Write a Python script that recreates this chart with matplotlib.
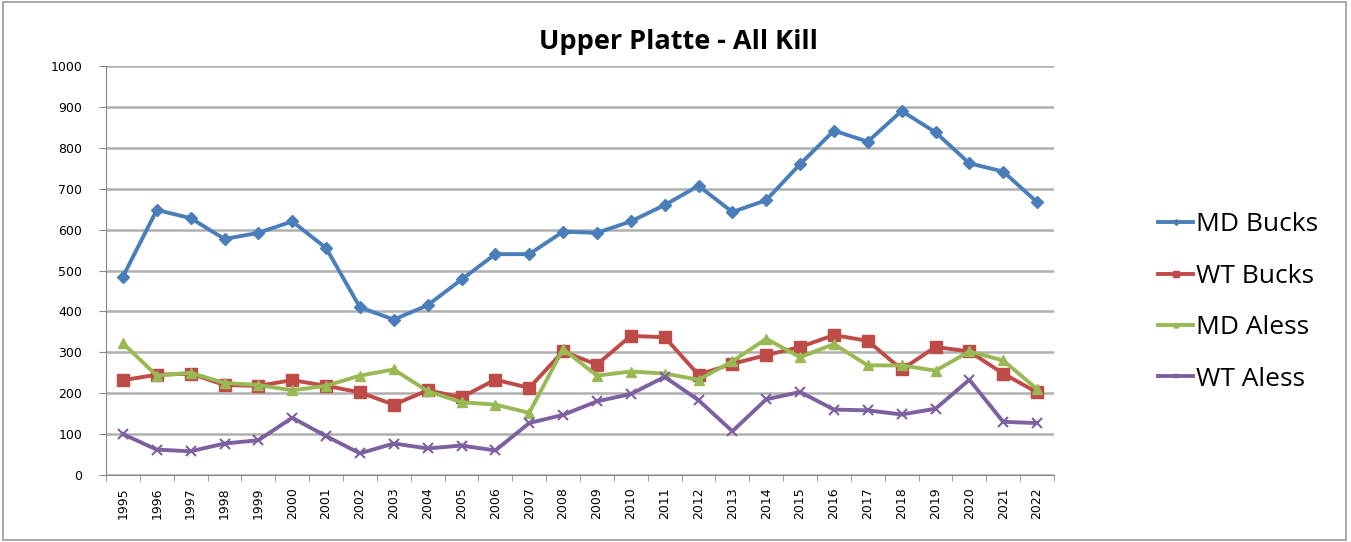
import matplotlib.pyplot as plt
from matplotlib.patches import Rectangle

years = list(range(1995, 2023))
md_bucks = [485, 648, 628, 577, 592, 620, 555, 410, 380, 415, 478, 540, 540, 595,
            592, 620, 660, 707, 643, 672, 760, 842, 815, 890, 838, 762, 742, 667]
wt_bucks = [232, 245, 248, 220, 218, 232, 218, 202, 172, 207, 190, 233, 213, 302,
            270, 340, 337, 245, 272, 293, 313, 342, 328, 258, 313, 302, 248, 202]
md_aless = [322, 243, 250, 225, 220, 207, 218, 243, 258, 205, 178, 172, 152, 308,
            243, 253, 248, 233, 278, 333, 288, 320, 268, 268, 255, 302, 280, 210]
wt_aless = [100, 62, 58, 77, 85, 140, 95, 53, 77, 65, 72, 60, 127, 147,
            180, 198, 240, 183, 107, 185, 203, 160, 158, 148, 162, 233, 130, 127]

series = [
    ("MD Bucks", md_bucks, "#4A7EBB", "D", 6),
    ("WT Bucks", wt_bucks, "#BE4B48", "s", 8),
    ("MD Aless", md_aless, "#98B954", "^", 7),
    ("WT Aless", wt_aless, "#7D60A0", "x", 7),
]

fig = plt.figure(figsize=(13.51, 5.42), dpi=100)
ax = fig.add_axes([106 / 1351, 1 - 475 / 542, (1054 - 106) / 1351, (475 - 66) / 542])

for name, vals, col, mk, ms in series:
    ax.plot(years, vals, color=col, lw=2.8, marker=mk, ms=ms, mew=1.5 if mk == "x" else 1,
            mec=col, mfc=col, label=name)

ax.set_xlim(1994.5, 2022.5)
ax.set_ylim(0, 1000)
ax.set_yticks(range(0, 1001, 100))
ax.set_xticks(years)
ax.set_xticklabels([str(y) for y in years], rotation=90, fontsize=9)
ax.set_xticks([y + 0.5 for y in [1994] + years], minor=True)
ax.tick_params(axis="x", which="major", length=0, pad=9)
ax.tick_params(axis="x", which="minor", length=4, color="#888888")
ax.tick_params(axis="y", labelsize=9, length=5, pad=12, color="#888888")
ax.yaxis.grid(True, color="#b0b0b0", lw=1.8)
ax.set_axisbelow(True)
for s in ["top", "right"]:
    ax.spines[s].set_visible(False)
ax.spines["left"].set_color("#888888")
ax.spines["bottom"].set_color("#888888")

fig.text(678 / 1351, 1 - 42 / 542, "Upper Platte - All Kill", ha="center", va="center",
         fontsize=19.5, fontweight="bold", family="Open Sans")

ax.legend(loc="center left", bbox_to_anchor=(1134 / 1351, 1 - 302 / 542),
          bbox_transform=fig.transFigure, frameon=False,
          prop={"family": "Open Sans", "size": 19},
          handlelength=1.35, handletextpad=0.1, labelspacing=1.0, markerscale=0.5)

fig.patches.append(Rectangle((0.002, 0.004), 0.994, 0.992, transform=fig.transFigure,
                             fill=False, ec="#999999", lw=1.2))

fig.savefig("out.png", dpi=100)
